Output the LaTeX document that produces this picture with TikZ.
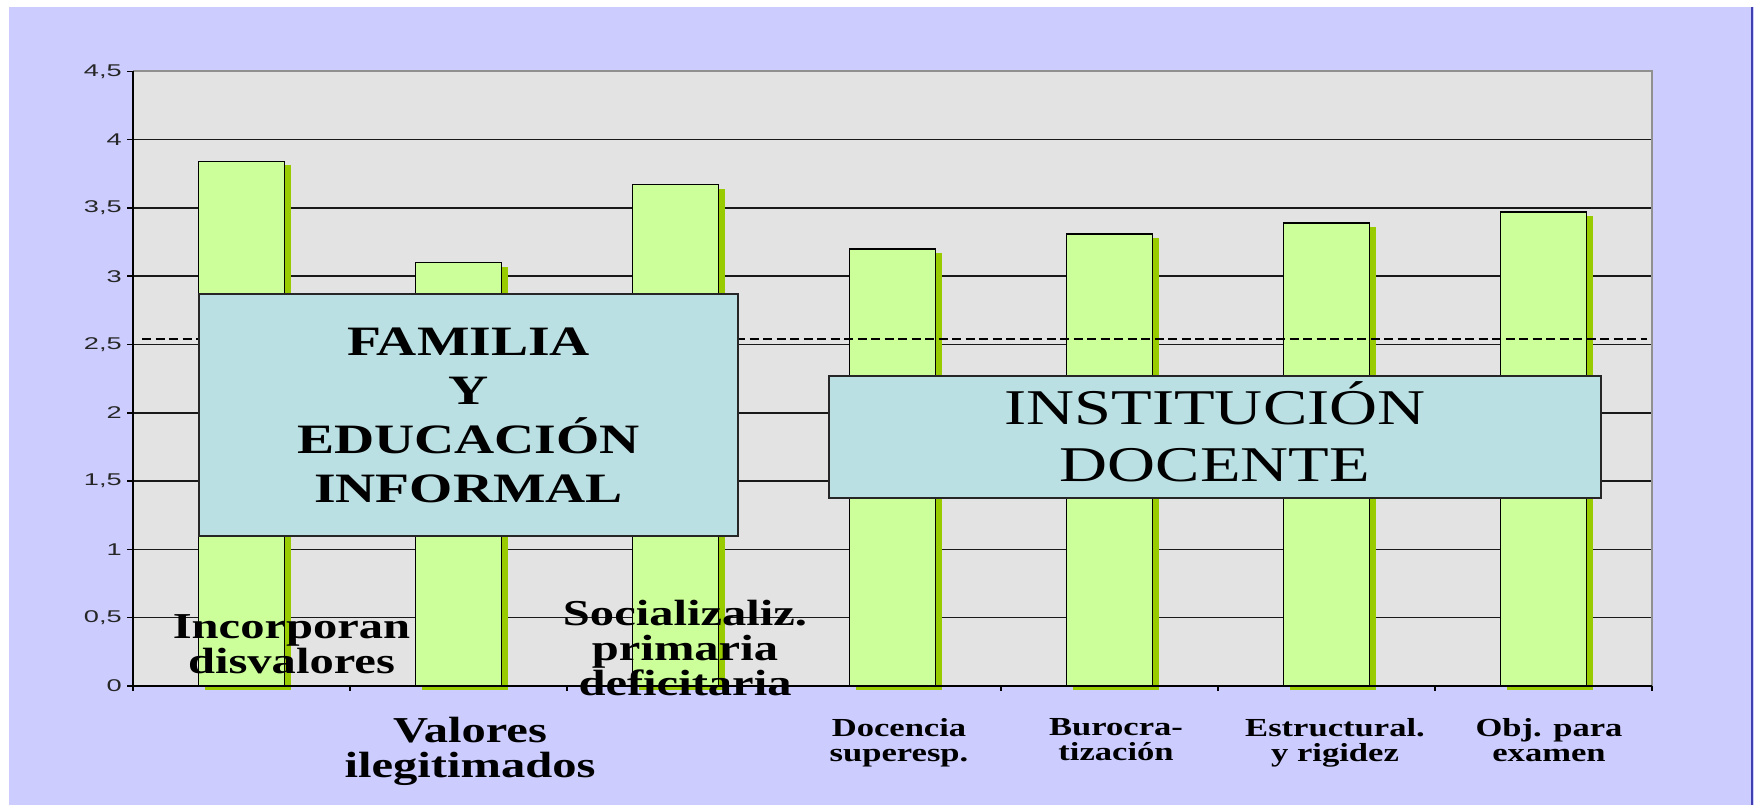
\documentclass[tikz,border=0pt]{standalone}
\usepackage{fontspec}
\usepackage{xcolor}
\usepackage{tikz}
\newfontfamily\chartserif[FakeStretch=1.33]{Liberation Serif}
\newfontfamily\chartsans[FakeStretch=1.6]{Liberation Sans}
\definecolor{bgp}{HTML}{CCCCFF}
\definecolor{edge}{HTML}{3F3FAF}
\definecolor{plotbg}{HTML}{E3E3E3}
\definecolor{frame}{HTML}{909090}
\definecolor{barfill}{HTML}{CCFF99}
\definecolor{barshadow}{HTML}{99CC00}
\definecolor{boxfill}{HTML}{BBE0E3}
\tikzset{
  gridln/.style={draw=black!90, line width=1.5pt},
  axisln/.style={draw=black, line width=1.8pt},
  frameln/.style={draw=frame, line width=2.5pt},
  barbox/.style={draw=black, fill=barfill, line width=1.5pt},
  barshade/.style={fill=barshadow},
  meanln/.style={draw=black, line width=2.2pt, dash pattern=on 9pt off 4.5pt},
  labbox/.style={draw=black!85, fill=boxfill, line width=1.8pt, align=center, inner sep=0pt},
  catbig/.style={align=center, inner sep=0pt, anchor=north, font=\chartserif\bfseries\fontsize{36.5}{35}\selectfont},
  catsmall/.style={align=center, inner sep=0pt, anchor=north, font=\chartserif\bfseries\fontsize{26}{25}\selectfont},
  ylab/.style={anchor=east, inner sep=0pt, text=black!85, font=\chartsans\fontsize{17}{17}\selectfont},
}

\begin{document}
\begin{tikzpicture}[x=1pt, y=-1pt]
  \def\ux{217}
  \def\uy{136.6}
  \useasboundingbox (0,0) rectangle (1754,805);
  % page and plot area
  \fill[white] (0,0) rectangle (1754,805);
  \fill[bgp] (9,7) rectangle (1754,805);
  \draw[edge, line width=2pt] (1752,7) -- (1752,805);
  \fill[plotbg] (133,71) rectangle (1652,686);
  \foreach \v in {0.5,1,...,4} {
    \draw[gridln] (133,{686-\uy*\v}) -- (1652,{686-\uy*\v});
  }
  \draw[frameln] (133,71) -- (1652,71) -- (1652,686);
  % bars
  \foreach \v [count=\i] in {3.84,3.1,3.67,3.2,3.31,3.39,3.47} {
    \fill[barshade] ({133+\ux*(\i-0.5)-37},{690-\uy*\v}) rectangle ({133+\ux*(\i-0.5)+49},690);
    \draw[barbox] ({133+\ux*(\i-0.5)-43},{686-\uy*\v}) rectangle ({133+\ux*(\i-0.5)+43},686);
  }
  \draw[meanln] (142,339) -- (1647,339);
  % axes
  \draw[axisln] (133,71) -- (133,686) -- (1652,686);
  \foreach \k in {0,...,7} {
    \draw[axisln, line width=1.5pt] ({133+\ux*\k},686) -- ++(0,5);
  }
  \foreach \v/\ytxt [count=\k] in {0/0, 0.5/{0,5}, 1/1, 1.5/{1,5}, 2/2, 2.5/{2,5}, 3/3, 3.5/{3,5}, 4/4, 4.5/{4,5}} {
    \draw[axisln, line width=1.5pt] (127,{686-\uy*\v}) -- (133,{686-\uy*\v});
    \node[ylab] (y\k) at (122,{686-\uy*\v}) {\ytxt};
  }
  % group boxes
  \node[labbox, minimum width=539pt, minimum height=242pt,
        font=\chartserif\bfseries\fontsize{41.8}{49}\selectfont]
        (familia) at (468.5,415) {FAMILIA\\Y\\EDUCACIÓN\\INFORMAL};
  \node[labbox, minimum width=772pt, minimum height=122pt,
        font=\chartserif\fontsize{50}{57}\selectfont]
        (docente) at (1215,437) {INSTITUCI\smash{Ó}N\\DOCENTE};
  % category labels
  \node[catbig] (incorp) at (291.5,614) {Incorporan\\disvalores};
  \node[catbig] (valores) at (470,717) {Valores\\ilegitimados};
  \node[catbig] (social) at (685,600) {Socializaliz.\\primaria\\deficitaria};
  \node[catsmall] (superesp) at (899,718) {Docencia\\superesp.};
  \node[catsmall] (buro) at (1116,718) {Burocra-\\tización};
  \node[catsmall] (rigidez) at (1335,718) {Estructural.\\y rigidez};
  \node[catsmall] (examen) at (1549,718) {Obj. para\\examen};
\end{tikzpicture}
\end{document}
